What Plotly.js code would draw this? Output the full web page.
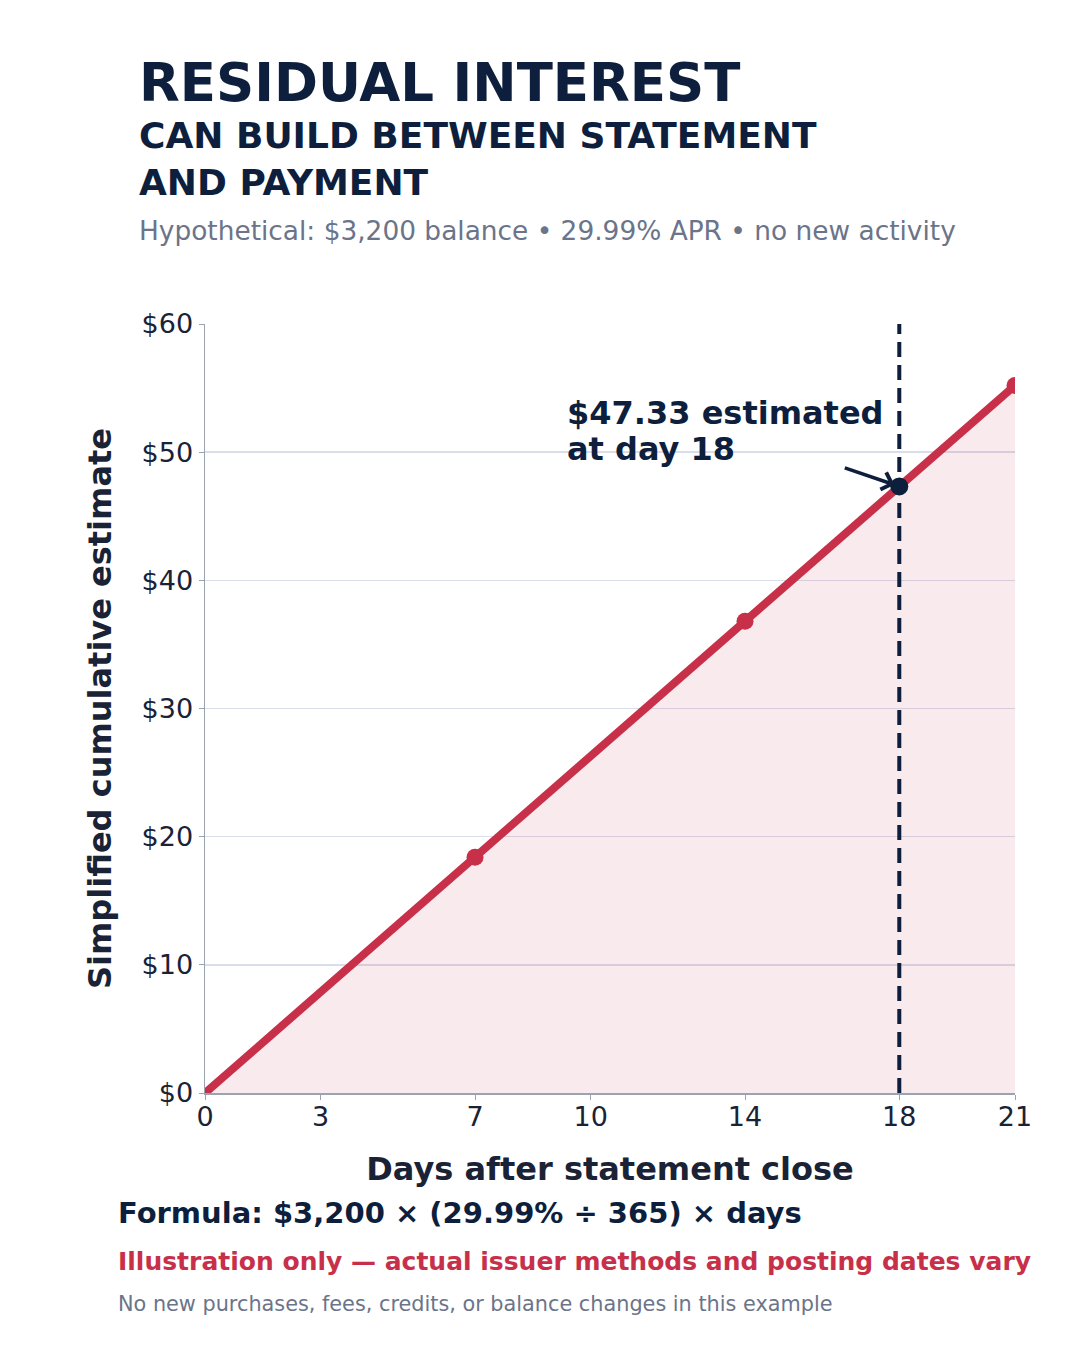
<!DOCTYPE html>
<html>
<head>
<meta charset="utf-8">
<script src="https://cdn.plot.ly/plotly-3.0.1.min.js"></script>
<style>
  html, body { margin: 0; padding: 0; background: #ffffff; }
  #chart { width: 1080px; height: 1350px; }
</style>
</head>
<body>
<div id="chart"></div>
<script>
// values
var days = [0, 7, 14, 18, 21];
var interest = [0, 18.40, 36.81, 47.33, 55.21];
var highlightDay = 18;
var xTicks = [0, 3, 7, 10, 14, 18, 21];
var yTicks = [0, 10, 20, 30, 40, 50, 60];
var yTickText = ['$0', '$10', '$20', '$30', '$40', '$50', '$60'];

var NAVY = '#0d1f3c';
var RED = '#c8304a';
var GREY = '#6b7489';
var FONT = 'DejaVu Sans, sans-serif';

// plot area in pixels, used to place the paper-space texts
var L = 205, R = 1015, T = 324, B = 1093;
function px(x) { return (x - L) / (R - L); }
function py(y) { return (B - y) / (B - T); }

var dotX = [], dotY = [], hiY = null;
days.forEach(function (d, i) {
    if (d === highlightDay) { hiY = interest[i]; }
    else if (d > 0) { dotX.push(d); dotY.push(interest[i]); }
});

var traces = [
    {
        x: days, y: interest, mode: 'lines', type: 'scatter',
        fill: 'tozeroy', fillcolor: 'rgba(200,48,74,0.10)',
        line: { color: RED, width: 8 }, hoverinfo: 'skip'
    },
    {
        x: dotX, y: dotY, mode: 'markers', type: 'scatter',
        marker: { color: RED, size: 17 }
    },
    {
        x: [highlightDay], y: [hiY], mode: 'markers', type: 'scatter',
        marker: { color: NAVY, size: 18 }
    }
];

function note(text, x, y, size, color, bold) {
    return {
        xref: 'paper', yref: 'paper', x: px(x - 3), y: py(y),
        xanchor: 'left', yanchor: 'middle', align: 'left',
        showarrow: false, text: bold ? '<b>' + text + '</b>' : text,
        font: { family: FONT, size: size, color: color }
    };
}

var annotations = [
    note('RESIDUAL INTEREST', 140, 82, 53, NAVY, true),
    note('CAN BUILD BETWEEN STATEMENT', 140, 135, 36, NAVY, true),
    note('AND PAYMENT', 140, 183, 36, NAVY, true),
    note('Hypothetical: $3,200 balance • 29.99% APR • no new activity', 140, 231, 26.4, GREY, false),
    note('Formula: $3,200 × (29.99% ÷ 365) × days', 119, 1213, 29, NAVY, true),
    note('Illustration only — actual issuer methods and posting dates vary', 119, 1261, 25, RED, true),
    note('No new purchases, fees, credits, or balance changes in this example', 119, 1304, 20.8, GREY, false),
    note('$47.33 estimated', 568, 413, 32, NAVY, true),
    note('at day 18', 568, 449, 32, NAVY, true),
    {
        x: highlightDay, y: hiY, xref: 'x', yref: 'y', text: '',
        showarrow: true, arrowhead: 4, arrowsize: 1, arrowwidth: 3.5,
        arrowcolor: NAVY, ax: -56, ay: -19, standoff: 5
    }
];

var layout = {
    width: 1080, height: 1350,
    paper_bgcolor: '#ffffff', plot_bgcolor: '#ffffff',
    margin: { l: L, r: 1080 - R, t: T, b: 1350 - B },
    showlegend: false,
    font: { family: FONT, color: '#1a2236' },
    xaxis: {
        range: [0, 21], tickvals: xTicks, showgrid: false, zeroline: false,
        showline: true, linecolor: '#9aa3b2', linewidth: 1.5,
        ticks: 'outside', ticklen: 5, tickcolor: '#9aa3b2',
        ticklabelstandoff: -6,
        tickfont: { size: 27, color: '#1a2236' },
        title: { text: '<b>Days after statement close</b>', standoff: 26,
                 font: { size: 32, color: '#1a2236' } }
    },
    yaxis: {
        range: [0, 60], tickvals: yTicks, ticktext: yTickText,
        showgrid: true, gridcolor: '#d9deea', gridwidth: 1.5, zeroline: false,
        showline: true, linecolor: '#9aa3b2', linewidth: 1.5,
        ticks: 'outside', ticklen: 5, tickcolor: '#9aa3b2',
        tickfont: { size: 27, color: '#1a2236' },
        title: { text: '<b>Simplified cumulative estimate</b>', standoff: 20,
                 font: { size: 32, color: '#1a2236' } }
    },
    shapes: [{
        type: 'line', xref: 'x', yref: 'paper', x0: highlightDay, x1: highlightDay,
        y0: 0, y1: 1, line: { color: NAVY, width: 4, dash: '15px,8px' }
    }],
    annotations: annotations
};

Plotly.newPlot('chart', traces, layout, { displayModeBar: false, staticPlot: true });
</script>
</body>
</html>
